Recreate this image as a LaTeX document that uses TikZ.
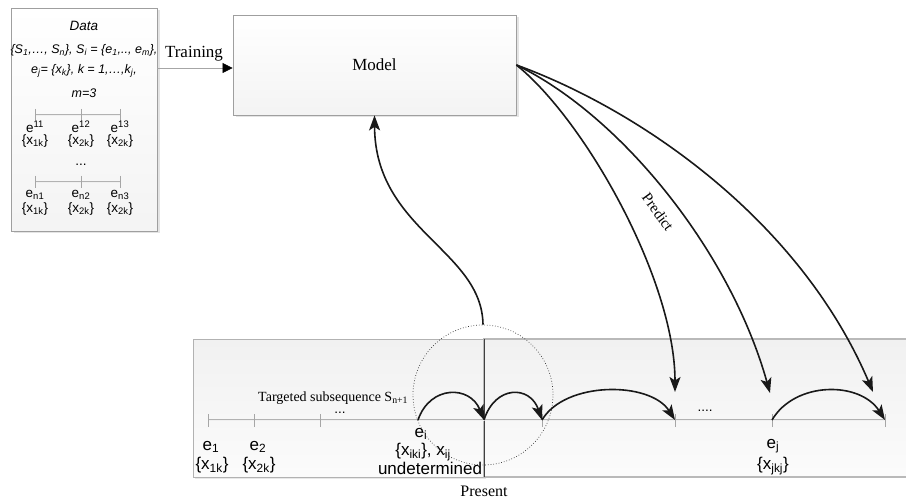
\documentclass[tikz,border=0pt]{standalone}
\usepackage{fontspec}
\setmainfont{Liberation Serif}
\setsansfont{Liberation Sans}
\usetikzlibrary{arrows.meta,calc,shadows}
\begin{document}
\begin{tikzpicture}[x=1pt,y=-1pt,
  box/.style={draw=gray!75, line width=0.8pt, top color=white, bottom color=gray!9,
              drop shadow={shadow xshift=2.5pt, shadow yshift=-2.5pt, fill=gray!35, opacity=0.6}},
  arr/.style={line width=1.6pt, draw=black!90, -{Stealth[length=15pt,width=11pt,inset=3.5pt]}},
  tline/.style={draw=gray!60, line width=0.45pt, double=gray!12, double distance=0.9pt},
  tickmark/.style={draw=gray!70, line width=0.6pt},
  sfbig/.style={font=\sffamily\fontsize{17}{19}\selectfont, inner sep=0pt},
  sfsmall/.style={font=\sffamily\fontsize{13.5}{15}\selectfont, inner sep=0pt},
  sfit/.style={font=\sffamily\itshape\fontsize{12.5}{15}\selectfont, inner sep=0pt},
  serif/.style={font=\rmfamily\fontsize{17}{19}\selectfont, inner sep=0pt},
]
\useasboundingbox (0,0) rectangle (906,500);

% ---------- Data box ----------
\node[box, minimum width=146pt, minimum height=223pt] (data) at (84,119.5) {};
\node[sfit, font=\sffamily\itshape\fontsize{13.5}{15}\selectfont] (dtitle) at (84,26) {Data};
\node[sfit] (dl1) at (84,50) {\{S\textsubscript{1},…, S\textsubscript{n}\}, S\textsubscript{i} = \{e\textsubscript{1},.., e\textsubscript{m}\},};
\node[sfit] (dl2) at (84,71) {e\textsubscript{j}= \{x\textsubscript{k}\}, k = 1,…,k\textsubscript{j},};
\node[sfit] (dl3) at (84,93) {m=3};
\coordinate (da1) at (35,115); \coordinate (da2) at (81,115); \coordinate (da3) at (120,115);
\coordinate (db1) at (35,182); \coordinate (db2) at (81,182); \coordinate (db3) at (120,182);
\draw[tline] (da1) -- (da3);
\draw[tline] (db1) -- (db3);
\foreach \p in {da1,da2,da3,db1,db2,db3}
  \draw[tickmark] ($(\p)+(0,-6)$) -- ($(\p)+(0,6)$);
\node[sfsmall] (e11) at (35,127) {e\textsuperscript{11}};
\node[sfsmall] (x11) at (35,141) {\{x\textsubscript{1k}\}};
\node[sfsmall] (e12) at (81,127) {e\textsuperscript{12}};
\node[sfsmall] (x12) at (81,141) {\{x\textsubscript{2k}\}};
\node[sfsmall] (e13) at (120,127) {e\textsuperscript{13}};
\node[sfsmall] (x13) at (120,141) {\{x\textsubscript{2k}\}};
\node[sfsmall] (ddots) at (81,165) {...};
\node[sfsmall] (en1) at (35,195) {e\textsubscript{n1}};
\node[sfsmall] (xn1) at (35,209) {\{x\textsubscript{1k}\}};
\node[sfsmall] (en2) at (81,195) {e\textsubscript{n2}};
\node[sfsmall] (xn2) at (81,209) {\{x\textsubscript{2k}\}};
\node[sfsmall] (en3) at (120,195) {e\textsubscript{n3}};
\node[sfsmall] (xn3) at (120,209) {\{x\textsubscript{2k}\}};

% ---------- Model ----------
\node[box, minimum width=283pt, minimum height=100pt, font=\rmfamily\fontsize{17}{19}\selectfont] (model) at (374.5,65) {Model};

\draw[draw=gray!70, line width=0.6pt, -{Triangle[length=10pt,width=10pt,color=black,fill=black]}]
  ($(data.east |- model.west)+(0,3)$) -- ($(model.west)+(0,3)$);
\node[serif, anchor=south] (training) at (194,61) {Training};

% ---------- Bottom band ----------
\node[draw=gray!60, line width=0.9pt, top color=gray!11, bottom color=gray!3,
      minimum width=291pt, minimum height=138pt,
      drop shadow={shadow xshift=2pt, shadow yshift=-2pt, fill=gray!35, opacity=0.5}] (past) at (338.5,408) {};
\node[draw=gray!55, line width=1.3pt, top color=gray!11, bottom color=gray!3,
      minimum width=428pt, minimum height=138pt] (future) at (698,408) {};
\draw[draw=black!75, line width=0.6pt] (past.north east) -- (past.south east);

% timeline
\coordinate (t1) at (208,420); \coordinate (t2) at (254,420); \coordinate (t3) at (320,420);
\coordinate (ti) at (418,420); \coordinate (tp) at (484,420);
\coordinate (t5) at (542,420); \coordinate (t6) at (675,420); \coordinate (t7) at (772,420);
\coordinate (t8) at (885,420);
\draw[tline] (t1) -- (t8);
\foreach \p in {t1,t2,t3,t5,t6,t7,t8}
  \draw[tickmark] ($(\p)+(0,-6)$) -- ($(\p)+(0,7)$);
\node[sfsmall] (dots1) at (340,413) {...};
\node[sfsmall] (dots2) at (705,411) {....};

\node[font=\rmfamily\fontsize{14}{16}\selectfont, inner sep=0pt, anchor=west] (target) at (258,398) {Targeted subsequence S\textsubscript{n+1}};

\node[sfbig] (le1) at (211,447) {e\textsubscript{1}};
\node[sfbig] (lx1) at (212,465) {\{x\textsubscript{1k}\}};
\node[sfbig] (le2) at (258,447) {e\textsubscript{2}};
\node[sfbig] (lx2) at (259,465) {\{x\textsubscript{2k}\}};
\node[sfbig] (lei) at (421,434) {e\textsubscript{i}};
\node[sfbig] (lxi) at (423,452) {\{x\textsubscript{iki}\}, x\textsubscript{ij}};
\node[sfbig] (lund) at (430,468) {undetermined};
\node[sfbig] (lej) at (773,446) {e\textsubscript{j}};
\node[sfbig] (lxj) at (773,466) {\{x\textsubscript{jkj}\}};

\node[serif, font=\rmfamily\fontsize{16}{18}\selectfont] (present) at (484,491) {Present};

% dotted circle
\node[circle, draw=black!80, dotted, line width=0.7pt, minimum size=140pt, inner sep=0pt] (focus) at (483,395) {};

% ---------- arrows ----------
\draw[arr] (focus.north) .. controls (482,250) and (375,230) .. (model.south);

\coordinate (p1) at (675,392);
\coordinate (p2) at (770,393);
\coordinate (p3) at (873,392);
\draw[arr] (model.east) .. controls (585,120) and (675,280) .. (p1);
\draw[arr] (model.east) .. controls (620,115) and (730,250) .. (p2);
\draw[arr] (model.east) .. controls (640,110) and (800,220) .. (p3);
\node[font=\rmfamily\fontsize{15}{17}\selectfont, inner sep=0pt, rotate=-54] (predict) at (658,212) {Predict};

\draw[arr] (ti) .. controls (430,385) and (470,385) .. (tp);
\draw[arr] (tp) .. controls (495,385) and (530,385) .. (t5);
\draw[arr] (t5) .. controls (565,381) and (650,381) .. (t6);
\draw[arr] (t7) .. controls (795,381) and (860,381) .. (t8);
\end{tikzpicture}
\end{document}
